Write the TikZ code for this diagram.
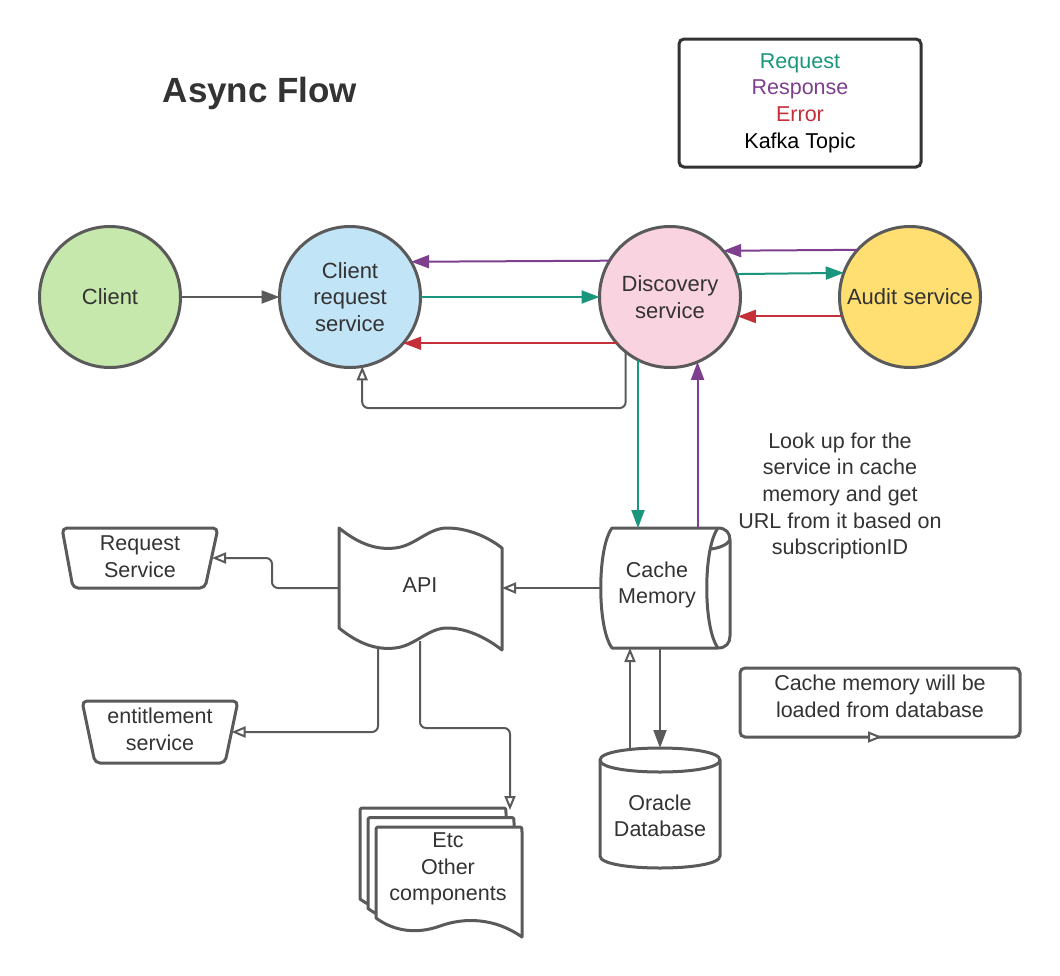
\documentclass[tikz,border=0pt]{standalone}
\usepackage{fontspec}
\setmainfont{Liberation Sans}
\usetikzlibrary{arrows.meta}
\definecolor{lineg}{HTML}{5A5A5A}
\definecolor{txtg}{HTML}{333333}
\definecolor{reqc}{HTML}{19967D}
\definecolor{resc}{HTML}{7F3F8F}
\definecolor{errc}{HTML}{C42F3A}
\definecolor{greenf}{HTML}{C7E8AC}
\definecolor{bluef}{HTML}{C1E4F7}
\definecolor{pinkf}{HTML}{F9D3DF}
\definecolor{yellowf}{HTML}{FFDF71}
\newcommand{\mydocshape}{(376,832) .. controls (376,827) .. (381,827) -- (517,827) .. controls (522,827) .. (522,832) -- (522,937) .. controls (495,918) and (465,917) .. (440,926) .. controls (418,934) and (395,932) .. (376,918) -- cycle}
\begin{document}
\begin{tikzpicture}[x=1pt,y=-1pt,
  base/.style={font=\fontsize{21.5pt}{26.6pt}\selectfont, text=txtg, align=center, inner sep=0pt, outer sep=0pt},
  circ/.style={base, font=\fontsize{22pt}{26.6pt}\selectfont, circle, draw=lineg, line width=3pt, minimum size=141pt},
  conn/.style={line width=2pt},
  fillarr/.style={conn, -{Triangle[length=18pt,width=13pt]}},
  openarr/.style={conn, draw=lineg, -{Triangle[length=14pt,width=11pt,fill=white]}},
  shp/.style={draw=lineg, line width=3pt, fill=white, line join=round},
  boxnote/.style={draw=lineg, line width=3pt, rounded corners=5pt, inner sep=0pt, outer sep=0pt}
]
\useasboundingbox (0,0) rectangle (1060,975);
\fill[white] (0,0) rectangle (1060,975);

% title and legend
\node[base, font=\fontsize{35pt}{40pt}\selectfont\bfseries] (title) at (260,93) {Async Flow};
\node[base, draw=txtg, line width=3pt, rounded corners=5pt, minimum width=242pt, minimum height=128pt] (legend) at (800,103)
  {\textcolor{reqc}{Request}\\\textcolor{resc}{Response}\\\textcolor{errc}{Error}\\\textcolor{black}{Kafka Topic}};

% circles
\node[circ, fill=greenf] (client) at (110,297) {Client};
\node[circ, fill=bluef] (crs) at (350,297) {Client\\request\\service};
\node[circ, fill=pinkf] (disc) at (670,297) {Discovery\\service};
\node[circ, fill=yellowf] (audit) at (910,297) {Audit service};

% cache memory shape
\draw[shp] (612,528) -- (718,528) .. controls (726,528) and (730,533) .. (730,540) -- (730,636)
  .. controls (730,643) and (726,648) .. (718,648) -- (612,648)
  .. controls (597,628) and (597,548) .. (612,528) -- cycle;
\draw[draw=lineg, line width=3pt] (718,528) .. controls (703,548) and (703,628) .. (718,648);
\draw[draw=lineg, line width=3pt] (711,549) .. controls (719,548) and (727,545) .. (730,540);
\node[base, minimum width=130pt, minimum height=120pt] (cache) at (665,588) {};
\node[base] (cachetxt) at (657,585) {Cache\\Memory};

% oracle database
\draw[shp] (600,760) -- (600,856) .. controls (600,872) and (720,872) .. (720,856) -- (720,760)
  .. controls (720,744) and (600,744) .. (600,760) -- cycle;
\draw[draw=lineg, line width=3pt] (600,760) .. controls (600,776) and (720,776) .. (720,760);
\node[base, minimum width=120pt, minimum height=120pt] (oracle) at (660,808) {};
\node[base] (oracletxt) at (660,816) {Oracle\\Database};

% API shape
\draw[shp] (339,528) .. controls (360,545) and (378,550) .. (395,548) .. controls (415,546) and (428,528) .. (447,528)
  .. controls (468,528) and (488,537) .. (502,548) -- (502,650)
  .. controls (488,639) and (468,628) .. (447,628) .. controls (428,628) and (415,646) .. (395,648)
  .. controls (378,650) and (360,645) .. (339,628) -- cycle;
\node[base, minimum width=163pt, minimum height=122pt] (api) at (420.5,588) {};
\node[base] (apitxt) at (420,585) {API};

% request service / entitlement service
\draw[shp, rounded corners=5pt] (62,528) -- (218,528) -- (205,588) -- (73,588) -- cycle;
\node[base, minimum width=144pt, minimum height=60pt] (reqsvc) at (140,558) {};
\node[base] (reqsvctxt) at (140,556.5) {Request\\Service};
\draw[shp, rounded corners=5pt] (82,701) -- (238,701) -- (225,763) -- (95,763) -- cycle;
\node[base, minimum width=143pt, minimum height=62pt] (ent) at (160,732) {};
\node[base] (enttxt) at (160,729.5) {entitlement\\service};

% stacked documents
\begin{scope}[shift={(-16,-19)}]\draw[shp] \mydocshape;\end{scope}
\begin{scope}[shift={(-8,-9.5)}]\draw[shp] \mydocshape;\end{scope}
\draw[shp] \mydocshape;
\node[base] (other) at (448,869) {Etc\\Other\\components};

% notes
\node[boxnote, minimum width=280pt, minimum height=69pt] (note) at (880,702.5) {};
\node[base] (notetxt) at (880,696.5) {Cache memory will be\\loaded from database};
\node[base] (lookup) at (840,496) {Look up for the\\service in cache\\memory and get\\URL from it based on\\subscriptionID};

% connectors, top row
\draw[fillarr, draw=lineg] (client.east) -- (crs.west);
\draw[fillarr, draw=resc] (disc.149.5) -- (crs.30.5);
\draw[fillarr, draw=reqc] (crs.east) -- (disc.west);
\draw[fillarr, draw=errc] (disc.221.4) -- (crs.-41.4);
\draw[fillarr, draw=resc] (audit.138.6) -- (disc.41.4);
\draw[fillarr, draw=reqc] (disc.19.8) -- (audit.160.2);
\draw[fillarr, draw=errc] (audit.196.4) -- (disc.-16.4);
\coordinate (loopy) at (0,408);
\draw[openarr, rounded corners=6pt] (disc.231.7) |- (loopy -| crs.-80.3) -- (crs.-80.3);

% discovery <-> cache
\draw[fillarr, draw=reqc] (disc.243.2) -- (disc.243.2 |- cache.north);
\draw[fillarr, draw=resc] (cache.north -| disc.-67.65) -- (disc.-67.65);

% cache <-> oracle
\draw[fillarr, draw=lineg] (cache.south -| oracle.north) -- (oracle.north);
\coordinate (ob) at ([xshift=-30pt,yshift=-2pt]oracle.north);
\draw[openarr] (ob) -- (ob |- cache.south);

% cache -> api -> others
\draw[openarr] (cache.west) -- (api.east);
\draw[openarr, rounded corners=6pt] (api.west) -- ++(-67,0) |- (reqsvc.east);
\draw[openarr, rounded corners=6pt] ([xshift=-42.5pt,yshift=1pt]api.south) |- (ent.east);
\coordinate (bend) at (510,728);
\coordinate (stacktip) at (510,810);
\draw[openarr, rounded corners=6pt] ([xshift=-0.5pt,yshift=8pt]api.south) |- (bend) -- (stacktip);

% small arrow on note
\draw[openarr] ([xshift=-12pt]note.south) -- ([xshift=2pt]note.south);
\end{tikzpicture}
\end{document}
